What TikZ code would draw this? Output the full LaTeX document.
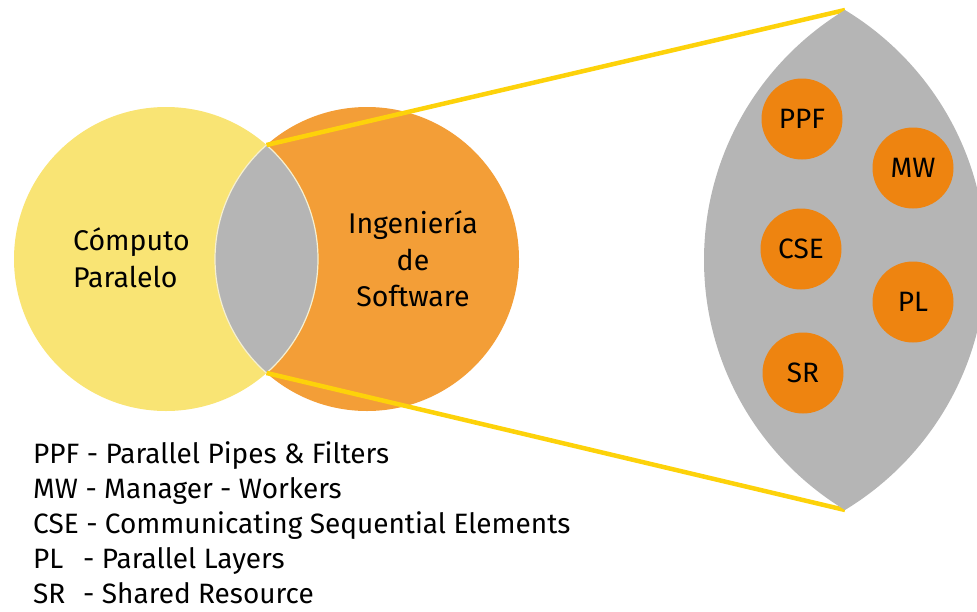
\documentclass[tikz,border=0pt]{standalone}
\usepackage{fontspec}
\setmainfont{Fira Sans}
\definecolor{venny}{HTML}{F9E474}
\definecolor{venno}{HTML}{F39E37}
\definecolor{lensgray}{HTML}{B5B5B5}
\definecolor{dotorange}{HTML}{EE8410}
\definecolor{gold}{HTML}{FDD20A}
\definecolor{rim}{HTML}{F6F0D0}
\begin{document}
\begin{tikzpicture}[x=1pt,y=-1pt,
  bigcirc/.style={circle, minimum size=304pt, inner sep=0pt},
  dot/.style={circle, fill=dotorange, minimum size=81pt, inner sep=0pt, font=\fontsize{28}{30}\selectfont},
  label/.style={inner sep=0pt, font=\fontsize{28.5}{36.5}\selectfont},
  legend/.style={anchor=base west, inner sep=0pt, font=\fontsize{28}{30}\selectfont},
  zoomline/.style={draw=gold, line width=4.5pt}]
\useasboundingbox (0,0) rectangle (977,611);
% Venn circles
\node[bigcirc, fill=venny] (cp) at (166,259) {};
\node[bigcirc, fill=venno] (is) at (367,259) {};
\begin{scope}
  \clip (166,259) circle (152pt);
  \fill[lensgray] (367,259) circle (152pt);
  \draw[rim, line width=1.2pt] (367,259) circle (152pt);
\end{scope}
\begin{scope}
  \clip (367,259) circle (152pt);
  \draw[rim, line width=1.2pt] (166,259) circle (152pt);
\end{scope}
\node[label, anchor=west, align=left] (cptext) at (73,258) {Cómputo\\Paralelo};
\node[label, align=center] (istext) at (413,259) {Ingeniería\\de\\Software};
% zoom lines
\coordinate (lt) at (266.5,145);
\coordinate (lb) at (266.5,373);
\coordinate (bt) at (845,10);
\coordinate (bb) at (845,510);
\draw[zoomline] (lt) -- (bt);
\draw[zoomline] (lb) -- (bb);
% big lens
\begin{scope}
  \clip (996,260) circle (292pt);
  \fill[lensgray] (694,260) circle (292pt);
\end{scope}
\node[dot] (ppf) at (802,119) {PPF};
\node[dot] (mw) at (913,168) {MW};
\node[dot] (cse) at (801,249) {CSE};
\node[dot] (pl) at (913,302) {PL};
\node[dot] (sr) at (803,373) {SR};
% legend
\node[legend] (l1) at (33,463) {PPF - Parallel Pipes \& Filters};
\node[legend] (l2) at (33,498) {MW - Manager - Workers};
\node[legend] (l3) at (33,533) {CSE - Communicating Sequential Elements};
\node[legend] (l4) at (33,568) {\makebox[50pt][l]{PL}- Parallel Layers};
\node[legend] (l5) at (33,603) {\makebox[50pt][l]{SR}- Shared Resource};
\end{tikzpicture}
\end{document}
